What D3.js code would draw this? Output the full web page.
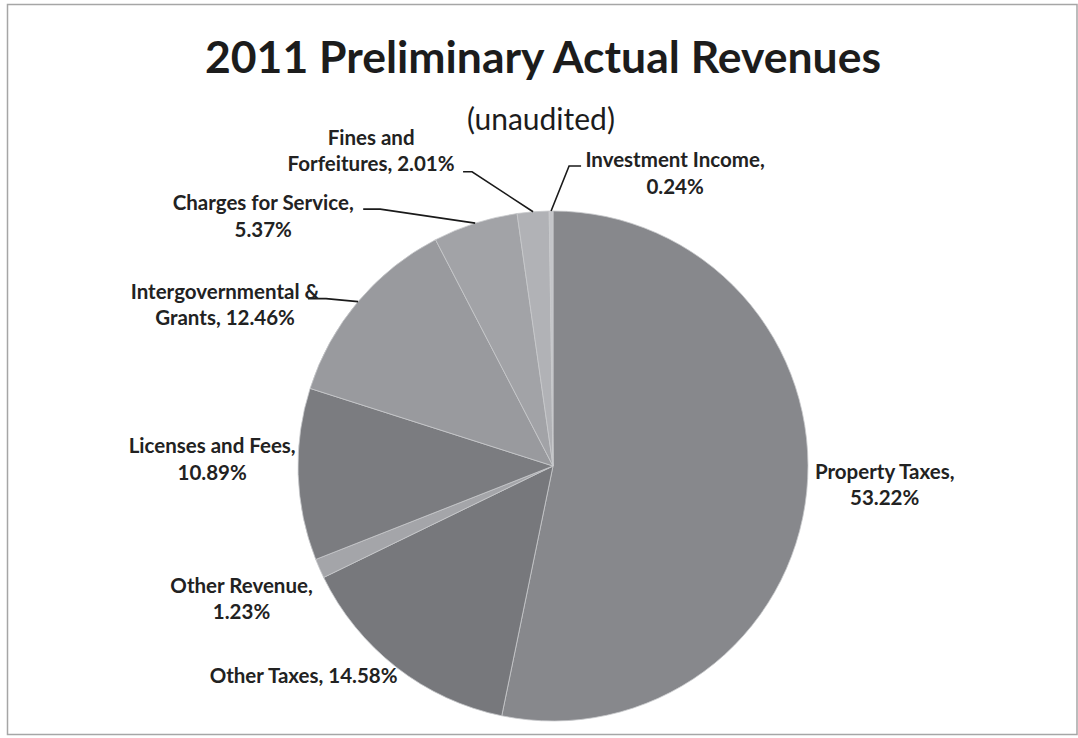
<!DOCTYPE html>
<html>
<head>
<meta charset="utf-8">
<script src="https://cdn.jsdelivr.net/npm/d3@7"></script>
<style>
  html, body { margin: 0; padding: 0; background: #fff; }
  svg { display: block; }
</style>
</head>
<body>
<svg id="chart" width="1078" height="738"></svg>
<script>
// chart values
const categories = [
  'Property Taxes',
  'Other Taxes',
  'Other Revenue',
  'Licenses and Fees',
  'Intergovernmental & Grants',
  'Charges for Service',
  'Fines and Forfeitures',
  'Investment Income',
];
const shares = [53.22, 14.58, 1.23, 10.89, 12.46, 5.37, 2.01, 0.24];
const labelLines = [
  ['Property Taxes,', '53.22%'],
  ['Other Taxes, 14.58%'],
  ['Other Revenue,', '1.23%'],
  ['Licenses and Fees,', '10.89%'],
  ['Intergovernmental &', 'Grants, 12.46%'],
  ['Charges for Service,', '5.37%'],
  ['Fines and', 'Forfeitures, 2.01%'],
  ['Investment Income,', '0.24%'],
];
const sliceColors = ['#87888c', '#77787c', '#a4a5a9', '#7b7c80', '#999a9e', '#a2a3a7', '#b1b2b6', '#c4c5c9'];

// label placement relative to the slice's outer edge point (layout only)
const labelLayout = [
  { dx: 78, dy: -13 },
  { dx: -93, dy: 16 },
  { dx: -78, dy: 24 },
  { dx: -86, dy: -21 },
  { dx: -133, dy: -3, leader: [[-32, -3], [-50, -3]] },
  { dx: -212, dy: -13, leader: [[-95, -14], [-112, -14]] },
  { dx: -162, dy: -67, leader: [[-61, -40], [-70, -40]] },
  { dx: 124, dy: -44, leader: [[18, -45], [30, -45]] },
];

const width = 1078, height = 738;
const cx = 553, cy = 466, radius = 255;
const lineHeight = 26.5;

const svg = d3.select('#chart');

// outer frame
svg.append('rect')
  .attr('x', 7.5).attr('y', 4.5)
  .attr('width', width - 8.5).attr('height', height - 8)
  .attr('fill', 'none')
  .attr('stroke', '#a6a6a6')
  .attr('stroke-width', 1.5);

svg.append('text')
  .attr('x', 543).attr('y', 73)
  .attr('text-anchor', 'middle')
  .attr('font-family', 'Lato, sans-serif')
  .attr('font-weight', 700)
  .attr('font-size', 44.5)
  .attr('fill', '#1c1c1c')
  .text('2011 Preliminary Actual Revenues');

svg.append('text')
  .attr('x', 541).attr('y', 130)
  .attr('text-anchor', 'middle')
  .attr('font-family', 'Lato, sans-serif')
  .attr('font-size', 30)
  .attr('fill', '#1c1c1c')
  .text('(unaudited)');

const data = categories.map((c, i) => ({ name: c, value: shares[i], i }));

const pie = d3.pie()
  .value(d => d.value)
  .sort(null);

const arc = d3.arc()
  .innerRadius(0)
  .outerRadius(radius);

const arcs = pie(data);

const g = svg.append('g')
  .attr('transform', `translate(${cx},${cy})`);

g.selectAll('path.slice')
  .data(arcs)
  .enter()
  .append('path')
  .attr('class', 'slice')
  .attr('d', arc)
  .attr('fill', d => sliceColors[d.data.i])
  .attr('stroke', '#c8c9cc')
  .attr('stroke-width', 0.8);

// point on the rim at the slice's mid angle
const rimPoint = d => {
  const a = (d.startAngle + d.endAngle) / 2;
  return [radius * Math.sin(a), -radius * Math.cos(a)];
};

// leader lines
const lineFunction = d3.line();
arcs.forEach(d => {
  const lay = labelLayout[d.data.i];
  if (!lay.leader) return;
  const p = rimPoint(d);
  const pts = [p].concat(lay.leader.map(o => [p[0] + o[0], p[1] + o[1]]));
  g.append('path')
    .attr('d', lineFunction(pts))
    .attr('fill', 'none')
    .attr('stroke', '#1a1a1a')
    .attr('stroke-width', 1.6);
});

// labels
arcs.forEach(d => {
  const lay = labelLayout[d.data.i];
  const p = rimPoint(d);
  const t = g.append('text')
    .attr('text-anchor', 'middle')
    .attr('font-family', 'Lato, sans-serif')
    .attr('font-weight', 700)
    .attr('font-size', 20.5)
    .attr('fill', '#222');
  labelLines[d.data.i].forEach((line, k) => {
    t.append('tspan')
      .attr('x', p[0] + lay.dx)
      .attr('y', p[1] + lay.dy + k * lineHeight)
      .text(line);
  });
});
</script>
</body>
</html>
